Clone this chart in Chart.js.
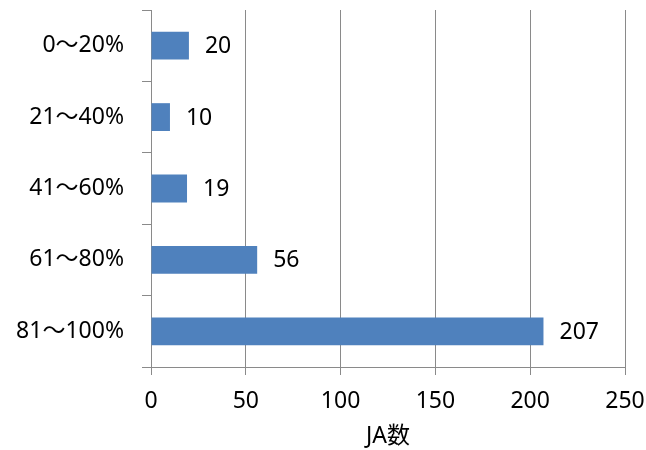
<!DOCTYPE html>
<html>
<head>
<meta charset="utf-8">
<script src="https://cdn.jsdelivr.net/npm/chart.js@4/dist/chart.umd.min.js"></script>
<style>
  html, body { margin: 0; padding: 0; background: #ffffff; }
  #wrap { width: 646px; height: 450px; }
</style>
</head>
<body>
<div id="wrap"><canvas id="c" width="646" height="450"></canvas></div>
<script>
// Share of members by range, counted as number of JAs
const categories = ['0〜20%', '21〜40%', '41〜60%', '61〜80%', '81〜100%'];
const jaCounts = [20, 10, 19, 56, 207];
const xTicks = [0, 50, 100, 150, 200, 250];
const axisTitle = 'JA数';

const FONT = "'Noto Sans', 'Noto Sans CJK JP', sans-serif";
const FONT_SIZE = 23;
const GRID = '#8a8a8a';

// Writes each bar's value just past its end
const valueLabels = {
  id: 'valueLabels',
  afterDatasetsDraw(chart) {
    const ctx = chart.ctx;
    const meta = chart.getDatasetMeta(0);
    ctx.save();
    ctx.font = FONT_SIZE + 'px ' + FONT;
    ctx.fillStyle = '#000000';
    ctx.textAlign = 'left';
    ctx.textBaseline = 'middle';
    meta.data.forEach((bar, i) => {
      ctx.fillText(String(chart.data.datasets[0].data[i]), bar.x + 16, bar.y + 1);
    });
    ctx.restore();
  }
};

// Keep the plot edges fixed regardless of edge-label overhang
function noEdgePadding(scale) {
  scale.paddingTop = 0;
  scale.paddingBottom = 0;
  scale.paddingLeft = 0;
  scale.paddingRight = 0;
}

new Chart(document.getElementById('c'), {
  type: 'bar',
  data: {
    labels: categories,
    datasets: [{
      data: jaCounts,
      backgroundColor: '#4f81bd',
      borderWidth: 0,
      barPercentage: 0.39,
      categoryPercentage: 1
    }]
  },
  options: {
    indexAxis: 'y',
    responsive: false,
    animation: false,
    layout: { padding: { top: 10, right: 21, left: 0, bottom: 0 } },
    plugins: {
      legend: { display: false },
      tooltip: { enabled: false }
    },
    scales: {
      x: {
        type: 'linear',
        min: 0,
        max: 250,
        afterBuildTicks(scale) {
          scale.ticks = xTicks.map(v => ({ value: v }));
        },
        afterFit(scale) { scale.height = 83; noEdgePadding(scale); },
        grid: {
          color: GRID,
          lineWidth: 1,
          drawTicks: true,
          tickLength: 8,
          tickColor: GRID
        },
        border: { display: true, color: GRID, width: 1 },
        ticks: {
          color: '#000000',
          font: { family: FONT, size: FONT_SIZE },
          padding: 13,
          maxRotation: 0
        },
        title: {
          display: true,
          text: axisTitle,
          color: '#000000',
          font: { family: FONT, size: FONT_SIZE },
          padding: { top: 1, bottom: 0 }
        }
      },
      y: {
        afterFit(scale) { scale.width = 151; noEdgePadding(scale); },
        grid: {
          drawOnChartArea: false,
          drawTicks: true,
          tickLength: 9,
          tickColor: GRID,
          offset: true
        },
        border: { display: true, color: GRID, width: 1 },
        ticks: {
          color: '#000000',
          font: { family: FONT, size: FONT_SIZE },
          padding: 18
        }
      }
    }
  },
  plugins: [valueLabels]
});
</script>
</body>
</html>
